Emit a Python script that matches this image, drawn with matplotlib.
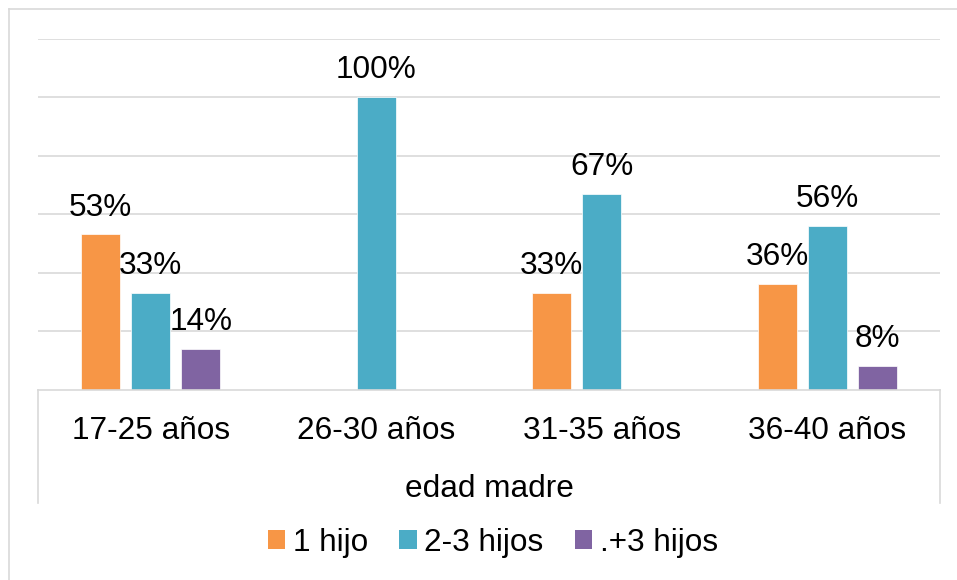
import matplotlib
matplotlib.use("Agg")
import matplotlib.pyplot as plt
from matplotlib.lines import Line2D
from matplotlib.patches import Patch
import numpy as np

plt.rcParams['font.family'] = ['Liberation Sans', 'DejaVu Sans']

categories = ["17-25 años", "26-30 años", "31-35 años", "36-40 años"]
series_names = ["1 hijo", "2-3 hijos", ".+3 hijos"]
uno_hijo = [53, 0, 33, 36]
dos_tres_hijos = [33, 100, 67, 56]
mas_tres_hijos = [14, 0, 0, 8]
axis_title = "edad madre"

colors = ["#F79646", "#4BACC6", "#8064A2"]
grid_color = "#D9D9D9"
FS = 22.7

W, H = 957, 580
fig = plt.figure(figsize=(W / 100, H / 100), dpi=100)

# plot area in pixel coordinates
left_px, right_px, top_px, bottom_px = 38, 940, 38.5, 389.5
ax = fig.add_axes([left_px / W, 1 - bottom_px / H,
                   (right_px - left_px) / W, (bottom_px - top_px) / H])

x = np.arange(len(categories))
step = 0.222
width = 0.173
series = [uno_hijo, dos_tres_hijos, mas_tres_hijos]
for i, (vals, col, name) in enumerate(zip(series, colors, series_names)):
    frac = np.array(vals) / 100.0
    ax.bar(x + (i - 1) * step, frac, width, color=col,
           edgecolor="white", linewidth=0.5, label=name, zorder=3)
    for xi, v, f in zip(x + (i - 1) * step, vals, frac):
        if v == 0:
            continue
        ax.annotate(f"{v}%", (xi, f), xytext=(0, 13.5), textcoords="offset points",
                    ha="center", va="baseline", fontsize=FS, color="black",
                    annotation_clip=False, zorder=4)

ax.set_xlim(-0.5, len(categories) - 0.5)
ax.set_ylim(0, 1.2)
ax.set_yticks(np.arange(0.2, 1.21, 0.2))
ax.set_yticklabels([])
ax.yaxis.grid(True, color=grid_color, linewidth=1.2, zorder=0)
ax.tick_params(axis="y", length=0)
ax.set_xticks(x)
ax.set_xticklabels(categories, fontsize=FS)
ax.tick_params(axis="x", length=0, pad=19)
for s in ("top", "left", "right"):
    ax.spines[s].set_visible(False)
ax.spines["bottom"].set_color(grid_color)
ax.spines["bottom"].set_linewidth(1.2)
ax.spines["bottom"].set_zorder(5)

# end separators of the category axis
drop = (503 - bottom_px) / (bottom_px - top_px)
for xa in (0, 1):
    ax.plot([xa, xa], [0, -drop], transform=ax.transAxes, color=grid_color,
            linewidth=1.2, clip_on=False)

fig.text(489 / W, 1 - 497 / H, axis_title, ha="center", va="baseline",
         fontsize=FS, color="black")

legend_handles = [Patch(facecolor=c, edgecolor="none") for c in colors]
fig.legend(handles=legend_handles, labels=series_names, loc="center",
           bbox_to_anchor=(493 / W, 1 - 543 / H), ncol=3, frameon=False,
           fontsize=FS, handlelength=0.54, handleheight=0.54,
           handletextpad=0.25, columnspacing=1.0, borderpad=0)

# chart frame edges
fig.add_artist(Line2D([9 / W, 9 / W], [0, 1 - 9 / H], color=grid_color,
                      linewidth=1.2, transform=fig.transFigure))
fig.add_artist(Line2D([9 / W, 1], [1 - 9 / H, 1 - 9 / H], color=grid_color,
                      linewidth=1.2, transform=fig.transFigure))

fig.savefig("out.png", dpi=100)
